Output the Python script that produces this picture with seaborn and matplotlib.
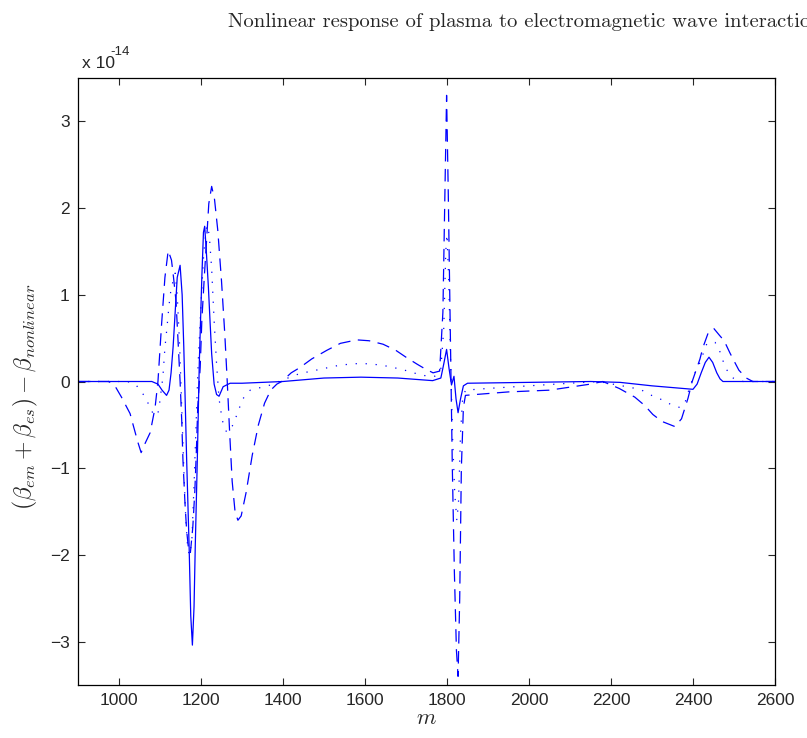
"""Nonlinear plasma response curves, MATLAB-style figure."""

import matplotlib

matplotlib.use("Agg")
import matplotlib.pyplot as plt
import numpy as np
import seaborn as sns

# values in units of 1e-14
SOLID_M = [900, 1080, 1095, 1105, 1116, 1122, 1127, 1132, 1137, 1142, 1149, 1154, 1158, 1161, 1165,
           1171, 1175, 1179, 1183, 1186, 1191, 1196, 1202, 1206, 1209, 1213, 1218, 1222, 1226, 1232,
           1238, 1244, 1254, 1271, 1300, 1400, 1500, 1590, 1680, 1765, 1785, 1792, 1799, 1805, 1811,
           1817, 1822, 1827, 1833, 1840, 1850, 2000, 2150, 2222, 2300, 2400, 2410, 2420, 2430, 2439,
           2448, 2458, 2466, 2473, 2600]
SOLID_V = [0, 0, -0.03, -0.1, -0.16, -0.1, 0.1, 0.4, 0.8, 1.2, 1.34, 1.0, 0.4, -0.14, -0.9,
           -1.9, -2.7, -3.04, -2.6, -1.9, -0.9, 0.24, 1.2, 1.72, 1.79, 1.5, 1.09, 0.7, 0.32, -0.03,
           -0.15, -0.17, -0.06, -0.02, -0.02, 0.0, 0.04, 0.05, 0.04, 0.01, 0.04, 0.2, 0.37, 0.15, -0.04,
           0.06, -0.2, -0.36, -0.2, -0.05, -0.02, -0.01, 0.0, -0.01, -0.05, -0.09, -0.03, 0.1, 0.22, 0.28,
           0.22, 0.1, 0.03, 0.0, 0]

DOTTED_M = [900, 1020, 1040, 1061, 1072, 1083, 1094, 1098, 1103, 1107, 1112, 1117, 1122, 1127, 1132,
            1137, 1142, 1148, 1153, 1158, 1163, 1168, 1173, 1178, 1183, 1188, 1193, 1200, 1207, 1214,
            1220, 1226, 1232, 1238, 1244, 1252, 1262, 1270, 1280, 1290, 1302, 1320, 1345, 1370, 1395,
            1440, 1490, 1540, 1590, 1640, 1690, 1740, 1770, 1785, 1792, 1797, 1800, 1804, 1809, 1814,
            1819, 1824, 1828, 1833, 1838, 1845, 1900, 2000, 2100, 2170, 2227, 2250, 2275, 2299, 2324,
            2348, 2368, 2380, 2393, 2405, 2417, 2434, 2454, 2466, 2473, 2483, 2498, 2522, 2600]
DOTTED_V = [0, 0, -0.03, -0.16, -0.26, -0.37, -0.39, -0.29, -0.1, 0.05, 0.39, 0.62, 0.88, 1.07, 1.16,
            1.25, 1.0, 0.4, -0.3, -1.0, -1.6, -1.95, -2.0, -1.8, -1.2, -0.5, 0.2, 0.9, 1.5, 1.8,
            1.7, 1.3, 0.7, 0.2, -0.2, -0.45, -0.58, -0.57, -0.48, -0.35, -0.2, -0.1, -0.07, -0.04, 0.01,
            0.09, 0.14, 0.19, 0.21, 0.19, 0.14, 0.07, 0.06, 0.15, 0.6, 1.5, 1.7, 1.2, 0.2, -0.7,
            -1.3, -1.6, -1.4, -0.6, -0.2, -0.1, -0.08, -0.05, -0.02, 0.0, -0.05, -0.07, -0.1, -0.16, -0.21,
            -0.27, -0.3, -0.25, -0.05, 0.1, 0.22, 0.44, 0.45, 0.34, 0.24, 0.13, 0.04, 0, 0]

DASHED_M = [900, 975, 990, 1006, 1027, 1035, 1046, 1054, 1063, 1076, 1088, 1095, 1104, 1112, 1120,
            1128, 1133, 1139, 1144, 1149, 1153, 1156, 1161, 1165, 1170, 1174, 1180, 1185, 1189, 1192,
            1198, 1202, 1208, 1214, 1219, 1226, 1233, 1241, 1250, 1258, 1264, 1270, 1276, 1283, 1290,
            1298, 1310, 1325, 1340, 1355, 1370, 1385, 1397, 1420, 1441, 1470, 1507, 1540, 1580, 1610,
            1644, 1675, 1700, 1727, 1745, 1766, 1782, 1790, 1795, 1799, 1803, 1808, 1813, 1818, 1823,
            1827, 1831, 1835, 1840, 1845, 1870, 1950, 2050, 2150, 2180, 2220, 2258, 2283, 2302, 2324,
            2356, 2372, 2388, 2398, 2417, 2424, 2437, 2451, 2465, 2476, 2490, 2502, 2512, 2530, 2546,
            2600]
DASHED_V = [0, 0, -0.05, -0.18, -0.37, -0.51, -0.7, -0.82, -0.72, -0.59, -0.3, 0.0, 0.67, 1.2, 1.51,
            1.4, 1.2, 0.93, 0.47, 0.0, -0.45, -0.91, -1.41, -1.72, -1.95, -1.98, -1.68, -1.26, -0.76, -0.3,
            0.16, 0.7, 1.2, 1.66, 2.05, 2.25, 2.1, 1.74, 1.16, 0.55, 0.0, -0.6, -1.15, -1.5, -1.6,
            -1.55, -1.28, -0.85, -0.5, -0.25, -0.1, -0.03, 0.0, 0.1, 0.16, 0.26, 0.36, 0.44, 0.48, 0.47,
            0.43, 0.36, 0.28, 0.2, 0.15, 0.1, 0.12, 0.8, 2.2, 3.3, 2.2, 0.6, -1.0, -2.2, -3.1,
            -3.4, -2.5, -1.0, -0.3, -0.16, -0.15, -0.12, -0.1, -0.03, 0.0, -0.08, -0.18, -0.28, -0.38, -0.46,
            -0.52, -0.43, -0.19, 0.0, 0.26, 0.39, 0.56, 0.61, 0.53, 0.47, 0.33, 0.22, 0.13, 0.04, 0.0,
            0]

X_TICKS = [1000, 1200, 1400, 1600, 1800, 2000, 2200, 2400, 2600]
Y_TICKS = [-3, -2, -1, 0, 1, 2, 3]

sns.set_style("ticks")
plt.rcParams["font.family"] = ["Liberation Sans", "DejaVu Sans"]
plt.rcParams["mathtext.fontset"] = "cm"

fig = plt.figure(figsize=(8.07, 7.38), dpi=100)
ax = fig.add_axes([78 / 807, 1 - 685 / 738, 697 / 807, 607 / 738])

series = [
    (SOLID_M, SOLID_V, "-"),
    (DOTTED_M, DOTTED_V, (0, (1, 7))),
    (DASHED_M, DASHED_V, (0, (10, 6))),
]
for m_values, values, style in series:
    sns.lineplot(x=np.array(m_values), y=np.array(values), ax=ax, color="blue",
                 linewidth=0.9, linestyle=style, sort=False, estimator=None)

ax.set_xlim(900, 2600)
ax.set_ylim(-3.5, 3.5)
ax.set_xticks(X_TICKS)
ax.set_yticks(Y_TICKS)
ax.tick_params(direction="in", length=5, width=0.8, top=True, right=True, labelsize=12.5, pad=6)
for spine in ax.spines.values():
    spine.set_linewidth(0.9)
    spine.set_color("black")

ax.set_xlabel(r"$m$", fontsize=16, labelpad=0)
ax.set_ylabel(r"$(\beta_{em}+\beta_{es})-\beta_{nonlinear}$", fontsize=17)
ax.yaxis.set_label_coords(-0.054, 0.474)

fig.text(82 / 807, 1 - 68 / 738, "x 10", fontsize=12.5, ha="left", va="baseline")
fig.text(110 / 807, 1 - 55 / 738, "-14", fontsize=9.5, ha="left", va="baseline")
# the title runs past the right edge in the original figure as well
fig.text(228 / 807, 1 - 27 / 738,
         "Nonlinear response of plasma to electromagnetic wave interaction",
         fontsize=14.8, family="cmr10", ha="left", va="baseline")

fig.savefig("out.png", dpi=100)
